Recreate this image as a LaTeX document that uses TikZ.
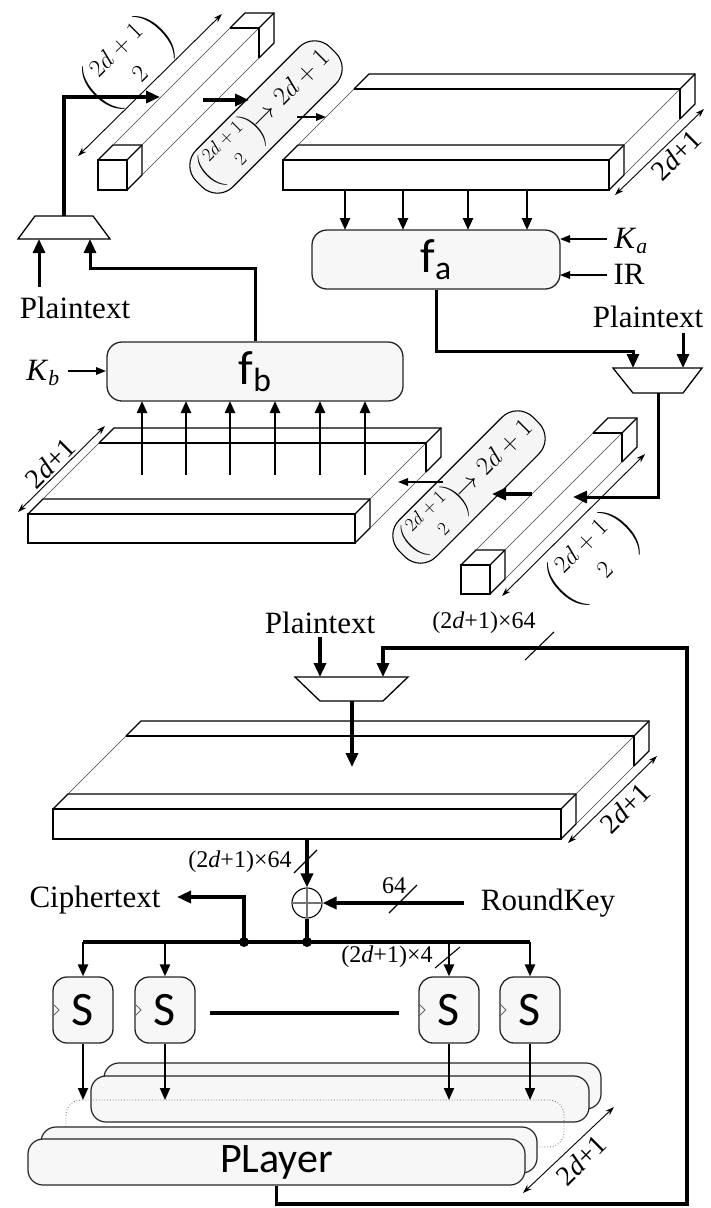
\RequirePackage{fix-cm}
\documentclass[tikz,border=0pt]{standalone}
\usepackage{amsmath}
\usepackage[no-math]{fontspec}
\setmainfont{Liberation Serif}
\newfontfamily\carl{Carlito}
\usetikzlibrary{arrows.meta}

% 3D bar: #1 x, #2 y (front top-left), #3 width, #4 height, #5 depth, #6 slice
\newcommand{\prism}[6]{%
 \pgfmathsetmacro{\Xa}{#1}\pgfmathsetmacro{\Xb}{#1+#3}%
 \pgfmathsetmacro{\Ya}{#2}\pgfmathsetmacro{\Yb}{#2+#4}%
 \pgfmathsetmacro{\Da}{#6}\pgfmathsetmacro{\Db}{#5-#6}\pgfmathsetmacro{\Dc}{#5}%
 \fill[white] (\Xa,\Ya) -- (\Xa+\Dc,\Ya-\Dc) -- (\Xb+\Dc,\Ya-\Dc) -- (\Xb+\Dc,\Yb-\Dc) -- (\Xb,\Yb) -- (\Xa,\Yb) -- cycle;
 \draw[edge] (\Xa,\Ya) rectangle (\Xb,\Yb);
 \draw[edge] (\Xa,\Ya) -- (\Xa+\Da,\Ya-\Da) -- (\Xb+\Da,\Ya-\Da) -- (\Xb+\Da,\Yb-\Da) -- (\Xb,\Yb);
 \draw[edge] (\Xb,\Ya) -- (\Xb+\Da,\Ya-\Da);
 \draw[thinedge] (\Xa+\Da,\Ya-\Da) -- (\Xa+\Db,\Ya-\Db);
 \draw[thinedge] (\Xb+\Da,\Ya-\Da) -- (\Xb+\Db,\Ya-\Db);
 \draw[thinedge] (\Xb+\Da,\Yb-\Da) -- (\Xb+\Db,\Yb-\Db);
 \draw[edge] (\Xa+\Db,\Ya-\Db) -- (\Xb+\Db,\Ya-\Db) -- (\Xb+\Db,\Yb-\Db);
 \draw[edge] (\Xa+\Db,\Ya-\Db) -- (\Xa+\Dc,\Ya-\Dc) -- (\Xb+\Dc,\Ya-\Dc) -- (\Xb+\Dc,\Yb-\Dc) -- (\Xb+\Db,\Yb-\Db);
 \draw[edge] (\Xb+\Db,\Ya-\Db) -- (\Xb+\Dc,\Ya-\Dc);
}
\newcommand{\bigbin}{\left(\genfrac{}{}{0pt}{0}{2d+1}{2}\right)}
\newcommand{\pilltext}{{\fontsize{19}{19}\selectfont$\bigbin$}$\!\to 2d+1$}

\begin{document}
\begin{tikzpicture}[x=1pt,y=-1pt,
  edge/.style={line width=1.3pt,black},
  thinedge/.style={line width=0.6pt,black!75},
  bigarrow/.style={line width=3.4pt,-{Triangle[length=14pt,width=12pt]}},
  bigline/.style={line width=4pt},
  medarrow/.style={line width=2.4pt,-{Triangle[length=12pt,width=10pt]}},
  smallarrow/.style={line width=1.6pt,-{Triangle[length=10pt,width=7.5pt]}},
  dimarrow/.style={line width=0.9pt,{Stealth[length=9pt,width=6pt]}-{Stealth[length=9pt,width=6pt]}},
  fbox/.style={draw=black!85,line width=1.3pt,fill=gray!6,rounded corners=15pt,inner sep=0pt},
  pill/.style={draw,line width=1.1pt,fill=gray!8,rounded corners=22pt,minimum height=52pt,inner xsep=8pt,font=\fontsize{26}{26}\selectfont},
  lbl/.style={inner sep=0pt,font=\fontsize{31}{31}\selectfont},
  bits/.style={inner sep=0pt,font=\fontsize{24}{24}\selectfont},
  dimlbl/.style={inner sep=0pt,rotate=45,font=\fontsize{28}{28}\selectfont},
  binlbl/.style={inner sep=0pt,rotate=45,font=\fontsize{25}{25}\selectfont},
  mux/.style={edge,fill=white},
  sbox/.style={fbox,rounded corners=14pt,minimum width=60pt,minimum height=66pt,font=\carl\fontsize{48}{48}\selectfont},
  layer/.style={draw=black!85,line width=1.2pt,fill=gray!6,rounded corners=15pt},
  slash/.style={line width=1.1pt},
]
\useasboundingbox (0,0) rectangle (710,1208);

%================ TOP PART =================
\prism{98}{160}{29}{30}{147}{15}
\draw[dimarrow] (78,156) -- (222,14);
\node[binlbl] (lbA) at (129,63) {$\bigbin$};

\node[pill,rotate=45] (pA) at (266,117) {\pilltext};

\prism{283}{160}{326}{30}{86}{15}
\draw[dimarrow] (615,195) -- (704,109);
\node[dimlbl] (lsA) at (676,155) {2\textit{d}+1};

\node[fbox,minimum width=248pt,minimum height=59pt] (fa) at (436,259.5) {\carl\fontsize{48}{48}\selectfont f\textsubscript{a}};
\foreach \x in {345,403,468,527} \draw[medarrow] (\x,190) -- (\x,230);
\node[lbl] (ka) at (631,241) {\textit{K}\textsubscript{\textit{a}}};
\node[lbl] (ir) at (629,274) {IR};
\coordinate (kaS) at (607,239); \coordinate (kaT) at (560,239);
\coordinate (irS) at (607,275); \coordinate (irT) at (560,275);
\draw[smallarrow] (kaS) -- (kaT);
\draw[smallarrow] (irS) -- (irT);

\draw[mux] (35,216) -- (93,216) -- (110,239) -- (18,239) -- cycle;
\coordinate (mA-out) at (64,216);
\coordinate (mA-in1) at (39,239);
\coordinate (mA-in2) at (90,239);
\node[lbl] (ptA) at (75,308) {Plaintext};
\draw[bigarrow,line width=3pt] (39,287) -- (mA-in1);
\coordinate (barA-in) at (160,97);
\draw[bigarrow] (mA-out) |- (barA-in);
\coordinate (barA-out) at (203,100); \coordinate (pA-in) at (249,100);
\draw[bigarrow] (barA-out) -- (pA-in);
\coordinate (pA-out) at (297,117); \coordinate (sA-in) at (326,117);
\draw[smallarrow] (pA-out) -- (sA-in);

\draw[mux] (613,368) -- (702,368) -- (683,393) -- (633,393) -- cycle;
\coordinate (mB-in1) at (633,368);
\coordinate (mB-in2) at (683,368);
\coordinate (mB-out) at (658,393);
\node[lbl] (ptB) at (648,317) {Plaintext};
\draw[bigarrow,line width=3pt] (683,333) -- (mB-in2);
\draw[bigarrow,line width=3pt] (fa.south) |- (633,351) -- (mB-in1);

\prism{461}{565}{29}{29}{147}{15}
\draw[dimarrow] (502,596) -- (645,454);
\node[binlbl] (lbB) at (594,559) {$\bigbin$};
\coordinate (barB-in) at (573,497);
\draw[bigarrow,line width=3pt] (mB-out) |- (barB-in);

\node[pill,rotate=45] (pB) at (469,487) {\pilltext};
\coordinate (barB-out) at (532,494); \coordinate (pB-in) at (492,494);
\draw[bigarrow] (barB-out) -- (pB-in);

\prism{28}{514}{327}{29}{86}{15}
\draw[dimarrow] (18,512) -- (105,426);
\node[dimlbl] (lsB) at (50,463) {2\textit{d}+1};
\coordinate (pB-out) at (443,482); \coordinate (sB-in) at (398,482);
\draw[smallarrow] (pB-out) -- (sB-in);

\node[fbox,minimum width=296pt,minimum height=59pt] (fb) at (255,371.5) {\carl\fontsize{48}{48}\selectfont f\textsubscript{b}};
\foreach \x in {142,186,230,275,320,365} \draw[medarrow] (\x,475) -- (\x,401);
\node[lbl] (kb) at (43,373) {\textit{K}\textsubscript{\textit{b}}};
\coordinate (kbS) at (68,371); \coordinate (kbT) at (106,371);
\draw[smallarrow] (kbS) -- (kbT);
\draw[bigarrow,line width=3pt] (fb.north) |- (90,268) -- (mA-in2);

%================ BOTTOM PART =================
\draw[mux] (295,677) -- (408,677) -- (383,701) -- (320,701) -- cycle;
\coordinate (mC-in1) at (320,677);
\coordinate (mC-in2) at (383,677);
\coordinate (mC-out) at (352,701);
\node[lbl] (ptC) at (320,623) {Plaintext};
\draw[bigarrow] (320,637) -- (mC-in1);

\prism{53}{809}{508}{30}{88}{15}
\draw[dimarrow] (568,843) -- (657,756);
\node[dimlbl] (lsC) at (625,808) {2\textit{d}+1};
\coordinate (sC-in) at (352,767);
\draw[bigarrow] (mC-out) -- (sC-in);

\node[draw,circle,minimum size=30pt,inner sep=0pt,line width=1.1pt,fill=white] (xor) at (307,903) {};
\draw[line width=1.2pt,black!55] (xor.north) -- (xor.south) (xor.west) -- (xor.east);
\coordinate (sC-out) at (307,839);
\draw[bigarrow] (sC-out) -- (xor.north);
\node[bits] (w1) at (240,862) {(2\textit{d}+1)×64};
\draw[slash] (294,873) -- (317,850);

\node[lbl] (rk) at (548,903) {RoundKey};
\coordinate (rkS) at (464,903);
\draw[bigarrow] (rkS) -- (xor.east);
\node[bits] (w2) at (394,886) {64};
\draw[slash] (389,913) -- (417,885);

\coordinate (dotX) at (307,942);
\coordinate (dotC) at (244,942);
\draw[bigline] (83,942) -- (530,942);
\draw[bigline] (xor.south) -- (dotX);
\fill (dotX) circle (5pt);
\fill (dotC) circle (5pt);
\node[lbl] (ct) at (95,900) {Ciphertext};
\draw[bigarrow] (dotC) |- (177,897);

\foreach \x/\n in {83/s1,165/s2,449/s3,530/s4}{
  \node[sbox] (\n) at (\x,1010) {S};
  \draw[line width=0.8pt,black!60] (\x-30,1004) -- (\x-24,1010) -- (\x-30,1016);
  \draw[medarrow] (\x,942) -- (\n.north);
}
\node[bits] (w3) at (387,957) {(2\textit{d}+1)×4};
\draw[slash] (435,968) -- (460,947);
\draw[line width=4pt] (210,1013) -- (399,1013);

\draw[layer] (104,1063) rectangle (601,1109);
\draw[layer] (91,1076) rectangle (589,1122);
\draw[line width=0.8pt,black!60,dotted,rounded corners=15pt] (66,1100) rectangle (564,1147);
\draw[layer] (41,1127) rectangle (537,1173);
\node[layer,minimum width=497pt,minimum height=46pt,inner sep=0pt,font=\carl\fontsize{42}{42}\selectfont] (pl) at (276.5,1162) {PLayer};
\foreach \x/\n in {83/s1,165/s2,449/s3,530/s4}{
  \draw[medarrow,line width=2pt] (\n.south) -- (\x,1100);
}
\draw[dimarrow] (523,1193) -- (614,1107);
\node[dimlbl] (lsD) at (581,1160) {2\textit{d}+1};

\draw[bigarrow] (pl.south) |- (687,1204) -- (687,648) -| (mC-in2);
\node[bits] (w4) at (484,623) {(2\textit{d}+1)×64};
\draw[slash] (525,660) -- (554,632);
\end{tikzpicture}
\end{document}
